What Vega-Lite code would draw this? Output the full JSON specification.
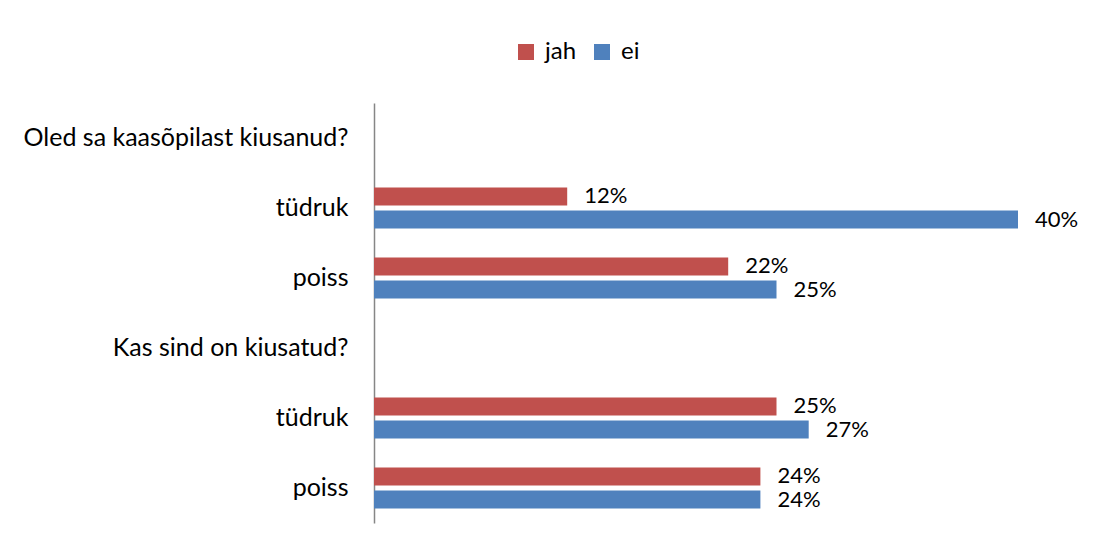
{
  "$schema": "https://vega.github.io/schema/vega-lite/v6.json",
  "width": 644,
  "height": 420,
  "autosize": {"type": "none"},
  "padding": {"left": 374, "top": 103, "right": 100, "bottom": 24},
  "background": "white",
  "config": {"view": {"stroke": null}, "font": "Lato"},
  "data": {
    "values": [
      {"row": "A1", "series": "jah", "value": 0.12},
      {"row": "A1", "series": "ei", "value": 0.40},
      {"row": "A2", "series": "jah", "value": 0.22},
      {"row": "A2", "series": "ei", "value": 0.25},
      {"row": "B1", "series": "jah", "value": 0.25},
      {"row": "B1", "series": "ei", "value": 0.27},
      {"row": "B2", "series": "jah", "value": 0.24},
      {"row": "B2", "series": "ei", "value": 0.24}
    ]
  },
  "encoding": {
    "y": {
      "field": "row",
      "type": "nominal",
      "scale": {"domain": ["A", "A1", "A2", "B", "B1", "B2"], "paddingInner": 0, "paddingOuter": 0},
      "axis": {
        "title": null,
        "ticks": false,
        "domainColor": "#868686",
        "domainWidth": 1.5,
        "labelPadding": 26,
        "labelFontSize": 25,
        "labelColor": "#000000",
        "labelFont": "Lato",
        "labelLimit": 0,
        "labelExpr": "datum.value == 'A' ? 'Oled sa kaasõpilast kiusanud?' : datum.value == 'B' ? 'Kas sind on kiusatud?' : (datum.value == 'A1' || datum.value == 'B1') ? 'tüdruk' : 'poiss'"
      }
    },
    "yOffset": {
      "field": "series",
      "type": "nominal",
      "scale": {"domain": ["jah", "ei"], "paddingInner": 0.217, "paddingOuter": 0.63}
    },
    "x": {
      "field": "value",
      "type": "quantitative",
      "scale": {"domain": [0, 0.4], "nice": false, "zero": true},
      "axis": null
    }
  },
  "layer": [
    {
      "mark": {"type": "bar"},
      "encoding": {
        "color": {
          "field": "series",
          "type": "nominal",
          "scale": {"domain": ["jah", "ei"], "range": ["#C0504D", "#4F81BD"]},
          "legend": {
            "title": null,
            "orient": "none",
            "direction": "horizontal",
            "legendX": 140,
            "legendY": -63,
            "padding": 0,
            "symbolType": "square",
            "symbolSize": 256,
            "symbolStrokeWidth": 0,
            "labelFontSize": 24,
            "labelFont": "Lato",
            "labelColor": "#000000",
            "labelOffset": 7,
            "columnPadding": 13
          }
        }
      }
    },
    {
      "mark": {"type": "text", "align": "left", "baseline": "middle", "dx": 17, "fontSize": 22, "font": "Lato", "color": "#000000"},
      "encoding": {
        "text": {"field": "value", "type": "quantitative", "format": ".0%"}
      }
    }
  ]
}
